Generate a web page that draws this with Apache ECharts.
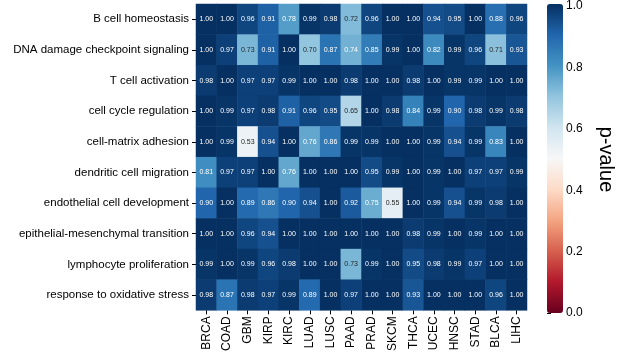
<!DOCTYPE html>
<html>
<head>
<meta charset="utf-8">
<style>
  html, body { margin: 0; padding: 0; background: #fff; }
  #chart { width: 626px; height: 354px; }
</style>
<script src="https://cdn.jsdelivr.net/npm/echarts@6/dist/echarts.min.js"></script>
</head>
<body>
<div id="chart"></div>
<script>
// Cancer types (columns) and GO processes (rows)
const cancers = ['BRCA','COAD','GBM','KIRP','KIRC','LUAD','LUSC','PAAD','PRAD','SKCM','THCA','UCEC','HNSC','STAD','BLCA','LIHC'];
const processes = [
  'B cell homeostasis',
  'DNA damage checkpoint signaling',
  'T cell activation',
  'cell cycle regulation',
  'cell-matrix adhesion',
  'dendritic cell migration',
  'endothelial cell development',
  'epithelial-mesenchymal transition',
  'lymphocyte proliferation',
  'response to oxidative stress'
];

// p-values per process, in the order of `cancers`
const bCellHomeostasis      = [1.00,1.00,0.96,0.91,0.78,0.99,0.98,0.72,0.96,1.00,1.00,0.94,0.95,1.00,0.88,0.96];
const dnaDamageCheckpoint   = [1.00,0.97,0.73,0.91,1.00,0.70,0.87,0.74,0.85,0.99,1.00,0.82,0.99,0.96,0.71,0.93];
const tCellActivation       = [0.98,1.00,0.97,0.97,0.99,1.00,1.00,0.98,1.00,1.00,0.98,1.00,0.99,0.99,1.00,1.00];
const cellCycleRegulation   = [1.00,0.99,0.97,0.98,0.91,0.96,0.95,0.65,1.00,0.98,0.84,0.99,0.90,0.98,0.99,0.98];
const cellMatrixAdhesion    = [1.00,0.99,0.53,0.94,1.00,0.76,0.86,0.99,0.99,1.00,1.00,0.99,0.94,0.99,0.83,1.00];
const dendriticMigration    = [0.81,0.97,0.97,1.00,0.76,1.00,1.00,1.00,0.95,0.99,1.00,0.99,1.00,0.97,0.97,0.99];
const endothelialDevelopment= [0.90,1.00,0.89,0.86,0.90,0.94,1.00,0.92,0.75,0.55,1.00,0.99,0.94,0.99,0.98,1.00];
const emtTransition         = [1.00,1.00,0.96,0.94,1.00,1.00,1.00,1.00,1.00,1.00,0.98,0.99,1.00,0.99,1.00,1.00];
const lymphocyteProlif      = [0.99,1.00,0.99,0.96,0.98,1.00,1.00,0.73,0.99,1.00,0.95,0.98,0.99,0.97,1.00,1.00];
const oxidativeStress       = [0.98,0.87,0.98,0.97,0.99,0.89,1.00,0.97,1.00,1.00,0.93,1.00,1.00,1.00,0.96,1.00];

const valueRows = [
  bCellHomeostasis, dnaDamageCheckpoint, tCellActivation, cellCycleRegulation,
  cellMatrixAdhesion, dendriticMigration, endothelialDevelopment, emtTransition,
  lymphocyteProlif, oxidativeStress
];

// Colorbar ticks
const colorbarTicks = [0.0, 0.2, 0.4, 0.6, 0.8, 1.0];

// Diverging red-blue palette, low to high
const rdbu = ['#67001f','#b2182b','#d6604d','#f4a582','#fddbc7','#f7f7f7','#d1e5f0','#92c5de','#4393c3','#2166ac','#053061'];

function hexToRgb(h) {
  return [parseInt(h.slice(1,3),16), parseInt(h.slice(3,5),16), parseInt(h.slice(5,7),16)];
}
function paletteAt(v) {
  const t = Math.max(0, Math.min(1, v)) * (rdbu.length - 1);
  const i = Math.min(Math.floor(t), rdbu.length - 2);
  const f = t - i;
  const a = hexToRgb(rdbu[i]), b = hexToRgb(rdbu[i + 1]);
  return a.map((c, k) => c + (b[k] - c) * f);
}
function luminance(rgb) {
  const lin = rgb.map(c => {
    const s = c / 255;
    return s <= 0.03928 ? s / 12.92 : Math.pow((s + 0.055) / 1.055, 2.4);
  });
  return 0.2126 * lin[0] + 0.7152 * lin[1] + 0.0722 * lin[2];
}

// Heatmap cells, text colour chosen for contrast against the cell fill
const cells = [];
valueRows.forEach((row, r) => {
  row.forEach((v, c) => {
    const dark = luminance(paletteAt(v)) > 0.408;
    cells.push({
      value: [c, r, v],
      label: { color: dark ? '#262626' : '#ffffff' }
    });
  });
});

const FONT = '"Liberation Sans", Arial, sans-serif';

const chart = echarts.init(document.getElementById('chart'), null, { renderer: 'canvas' });
chart.setOption({
  animation: false,
  backgroundColor: '#ffffff',
  textStyle: { fontFamily: FONT },
  grid: [
    { left: 196, top: 4, width: 331, height: 309 },
    { left: 547, top: 4, width: 16, height: 309 }
  ],
  xAxis: [
    {
      type: 'category', gridIndex: 0, data: cancers, position: 'bottom',
      axisLine: { show: false },
      axisTick: { show: true, alignWithLabel: true, length: 4, lineStyle: { color: '#000', width: 1 } },
      axisLabel: { rotate: 90, fontSize: 12, color: '#000', fontFamily: FONT, margin: 6 },
      splitLine: { show: false }, splitArea: { show: false }
    },
    { type: 'value', gridIndex: 1, show: false, min: 0, max: 1 }
  ],
  yAxis: [
    {
      type: 'category', gridIndex: 0, data: processes, inverse: true,
      axisLine: { show: false },
      axisTick: { show: true, alignWithLabel: true, length: 4, lineStyle: { color: '#000', width: 1 } },
      axisLabel: { fontSize: 11.5, color: '#000', fontFamily: FONT, margin: 7 },
      splitLine: { show: false }, splitArea: { show: false }
    },
    {
      type: 'value', gridIndex: 1, position: 'right', min: 0, max: 1, interval: 0.2,
      axisLine: { show: false },
      axisTick: { show: true, length: 4, lineStyle: { color: '#000', width: 1 } },
      axisLabel: {
        fontSize: 12, color: '#000', fontFamily: FONT, margin: 3,
        formatter: v => colorbarTicks.some(t => Math.abs(t - v) < 1e-9) ? v.toFixed(1) : ''
      },
      splitLine: { show: false },
      name: 'p-value', nameLocation: 'middle', nameRotate: -90, nameGap: 33,
      nameTextStyle: { fontSize: 20, color: '#000', fontFamily: FONT }
    }
  ],
  visualMap: {
    type: 'continuous', min: 0, max: 1, seriesIndex: 0,
    calculable: false, hoverLink: false, realtime: false,
    orient: 'vertical', left: 542, top: -1, padding: 5,
    itemWidth: 16, itemHeight: 309,
    text: null, showLabel: false,
    inRange: { color: rdbu }
  },
  series: [
    {
      type: 'heatmap', xAxisIndex: 0, yAxisIndex: 0, data: cells,
      label: {
        show: true, fontSize: 7, fontFamily: FONT,
        formatter: p => p.value[2].toFixed(2)
      },
      itemStyle: { borderWidth: 0 },
      emphasis: { disabled: true }
    },
    {
      type: 'line', xAxisIndex: 1, yAxisIndex: 1, data: [], silent: true
    }
  ]
});
</script>
</body>
</html>
